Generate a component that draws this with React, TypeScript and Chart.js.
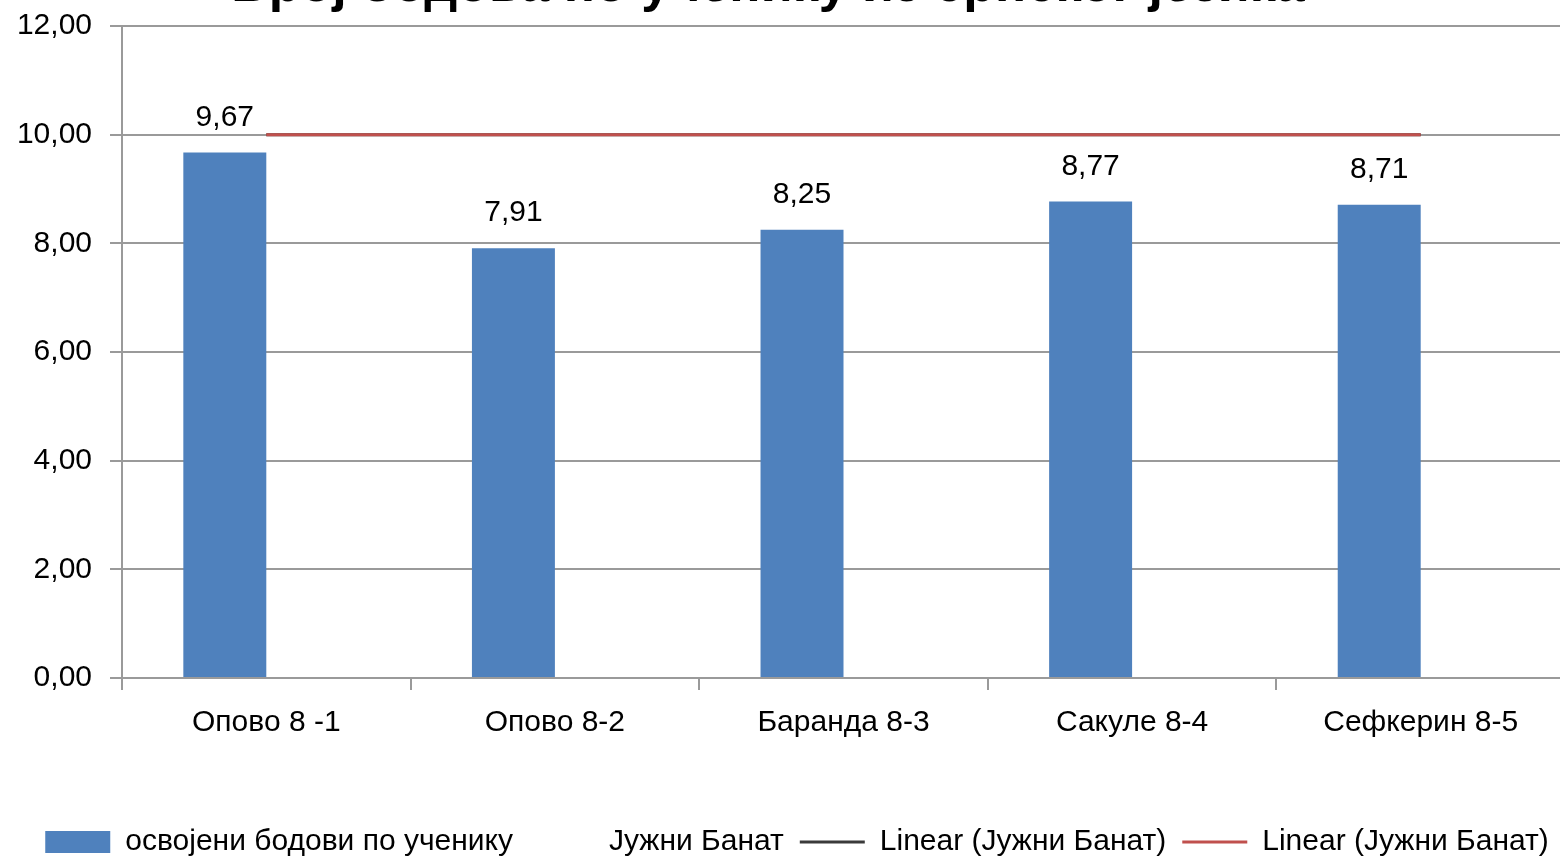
import React, { useEffect, useRef } from "react";
import { Chart, registerables } from "chart.js";
Chart.register(...registerables);

// ---- data ----
const chartTitle = "Број бодова по ученику из српског језика";
const categories = ["Опово 8 -1", "Опово 8-2", "Баранда 8-3", "Сакуле 8-4", "Сефкерин 8-5"];
const pointsPerStudent = [9.67, 7.91, 8.25, 8.77, 8.71];
const southBanat = [10, 10, 10, 10, 10];
const southBanatTrendBlack = [10, 10, 10, 10, 10];
const southBanatTrendRed = [10, 10, 10, 10, 10];
const seriesLabels = [
  "освојени бодови по ученику",
  "Јужни Банат",
  "Linear (Јужни Банат)",
  "Linear (Јужни Банат)",
];
const yMin = 0;
const yMax = 12;
const yStep = 2;

// ---- styles ----
const FONT = "Liberation Sans";
const BLUE = "#4F81BD";
const RED = "#C0504D";
const BLACK_LINE = "#3a3a3a";
const GRID = "#9a9a9a";
const TEXT = "#000000";
const LEGEND_PAD = 16;

const fmt = (v: number) => Number(v).toFixed(2).replace(".", ",");

const valueLabels = {
  id: "valueLabels",
  afterDatasetsDraw(chart: any) {
    const ctx = chart.ctx;
    const meta = chart.getDatasetMeta(0);
    const data = chart.data.datasets[0].data as number[];
    ctx.save();
    ctx.font = `30px "${FONT}"`;
    ctx.fillStyle = TEXT;
    ctx.textAlign = "center";
    ctx.textBaseline = "middle";
    meta.data.forEach((el: any, i: number) => {
      ctx.fillText(fmt(data[i]), el.x, el.y - 35);
    });
    ctx.restore();
  },
};

// nudge title / legend centres to match the original composition
const shiftBlocks = {
  id: "shiftBlocks",
  afterLayout(chart: any) {
    const t = chart.titleBlock;
    if (t) t.left -= 29;
    const l = chart.legend;
    if (l) l.left += 29;
  },
};

export default function App() {
  const canvasRef = useRef<HTMLCanvasElement>(null);

  useEffect(() => {
    if (!canvasRef.current) return;
    Chart.defaults.font.family = `"${FONT}", sans-serif`;
    const chart = new Chart(canvasRef.current, {
      type: "bar",
      data: {
        labels: categories,
        datasets: [
          {
            type: "bar",
            label: seriesLabels[0],
            data: pointsPerStudent,
            backgroundColor: BLUE,
            borderColor: BLUE,
            borderWidth: 0,
          },
          {
            type: "bar",
            label: seriesLabels[1],
            data: southBanat,
            backgroundColor: "rgba(0,0,0,0)",
            borderColor: "rgba(0,0,0,0)",
            borderWidth: 0,
          },
          {
            type: "line",
            label: seriesLabels[2],
            data: southBanatTrendBlack,
            borderColor: BLACK_LINE,
            borderWidth: 3,
            pointRadius: 0,
            fill: false,
            order: 1,
          },
          {
            type: "line",
            label: seriesLabels[3],
            data: southBanatTrendRed,
            borderColor: RED,
            borderWidth: 3,
            pointRadius: 0,
            fill: false,
            order: -1,
          },
        ] as any,
      },
      options: {
        responsive: false,
        animation: false,
        devicePixelRatio: 1,
        layout: { padding: { left: 0, right: 0, top: 0, bottom: 0 } },
        datasets: {
          bar: { categoryPercentage: 0.575, barPercentage: 1.0 },
        } as any,
        plugins: {
          tooltip: { enabled: false },
          title: {
            display: true,
            text: chartTitle,
            color: TEXT,
            font: { size: 52, weight: "bold", family: `"${FONT}", sans-serif` },
            padding: { top: 0, bottom: 8.6 },
          },
          legend: {
            display: true,
            position: "bottom",
            labels: {
              color: TEXT,
              font: { size: 30 },
              usePointStyle: true,
              pointStyleWidth: 65,
              boxHeight: 22,
              padding: LEGEND_PAD,
              generateLabels: (chart: any) =>
                chart.data.datasets.map((ds: any, i: number) => ({
                  text: ds.label,
                  fillStyle: ds.type === "line" ? ds.borderColor : ds.backgroundColor,
                  strokeStyle: ds.type === "line" ? ds.borderColor : ds.backgroundColor,
                  lineWidth: ds.type === "line" ? 3 : 0,
                  pointStyle: ds.type === "line" ? "line" : "rect",
                  hidden: false,
                  datasetIndex: i,
                  fontColor: TEXT,
                })),
            },
          },
        },
        scales: {
          x: {
            grid: {
              display: true,
              drawOnChartArea: false,
              drawTicks: true,
              tickLength: 12,
              color: GRID,
              lineWidth: 2,
              offset: true,
            },
            border: { display: true, color: GRID, width: 2 },
            ticks: {
              color: TEXT,
              font: { size: 30 },
              padding: 15,
              maxRotation: 0,
              autoSkip: false,
            },
            afterFit: (s: any) => {
              s.height = 912 - (40 + LEGEND_PAD) - 723;
            },
          },
          y: {
            min: yMin,
            max: yMax,
            grid: { color: GRID, lineWidth: 2, tickLength: 12, drawTicks: true },
            border: { display: true, color: GRID, width: 2 },
            ticks: {
              stepSize: yStep,
              color: TEXT,
              font: { size: 30 },
              padding: 18,
              callback: (v: any) => fmt(v),
            },
            afterFit: (s: any) => {
              s.width = 122;
            },
          },
        },
      },
      plugins: [valueLabels, shiftBlocks],
    });
    return () => chart.destroy();
  }, []);

  return (
    <div
      style={{
        position: "fixed",
        left: 0,
        top: 0,
        width: 1560,
        height: 856,
        overflow: "hidden",
        background: "#ffffff",
      }}
    >
      <canvas
        ref={canvasRef}
        width={1565}
        height={912}
        style={{ position: "absolute", left: 0, top: -45, width: 1565, height: 912 }}
      />
    </div>
  );
}
